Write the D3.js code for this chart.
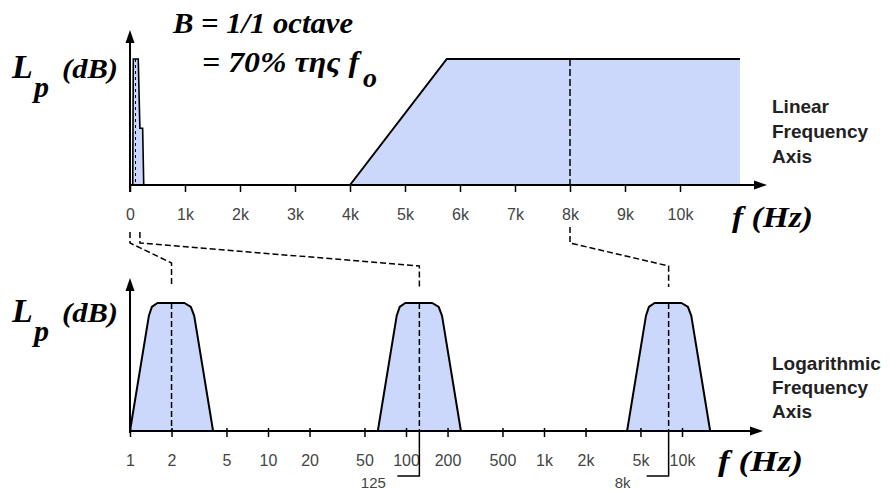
<!DOCTYPE html>
<html><head><meta charset="utf-8">
<script src="https://cdn.jsdelivr.net/npm/d3@7"></script>
<style>
html,body{margin:0;padding:0;background:#fff;}
svg{display:block;}
</style>
</head><body>
<svg id="chart" width="890" height="492"></svg>
<script>
// ---------- data ----------
const linTickValues = [0,1000,2000,3000,4000,5000,6000,7000,8000,9000,10000];
const linTickLabels = ["0","1k","2k","3k","4k","5k","6k","7k","8k","9k","10k"];
const logTickValues = [1,2,5,10,20,50,100,200,500,1000,2000,5000,10000];
const logTickLabels = ["1","2","5","10","20","50","100","200","500","1k","2k","5k","10k"];

// top (linear axis) shapes: [frequency Hz, level %]
const linSpikeFreq  = [50, 60, 150, 180, 230, 250];
const linSpikeLevel = [0, 100, 100, 45, 45, 0];
const linBandFreq   = [4000, 5760, 11090];
const linBandLevel  = [0, 100, 100];
const linMarkFreq   = 8000;

// bottom (log axis) 1/1 octave bands
const bandCenters   = [2, 125, 8000];
const band2Freq     = [1, 1.37, 1.44, 1.58, 2.48, 2.76, 2.92, 4];
const band125Freq   = [62.5, 85.6, 90, 98.8, 155, 172.5, 182.5, 250];
const band8kFreq    = [4000, 5480, 5760, 6320, 9920, 11040, 11680, 16000];
const bandLevel     = [0, 90, 97, 100, 100, 97, 90, 0];

// connectors: linear-axis source frequency -> log-axis target frequency
const connFrom = [0, 180, 8000];
const connTo   = [2, 125, 8000];

// ---------- layout ----------
const SERIF = "Liberation Serif";
const SANS  = "Liberation Sans";
const svg = d3.select("#chart");
const xLin = d3.scaleLinear().domain([0,10000]).range([130,680]);
const yTop = d3.scaleLinear().domain([0,100]).range([185,59]);
const xLog = d3.scaleLog().domain([1,10000]).range([130,682]);
const yBot = d3.scaleLinear().domain([0,100]).range([431,303]);
const fillC = "#ccd8fb";

// ---------- top chart ----------
const lineTop = d3.line().x(d=>xLin(d[0])).y(d=>yTop(d[1]));
const bandPts = linBandFreq.map((f,i)=>[f,linBandLevel[i]]);
svg.append("path")
  .attr("d", lineTop(bandPts.concat([[linBandFreq[linBandFreq.length-1],0]])) + "Z")
  .attr("fill", fillC).attr("stroke","none");
svg.append("path").attr("d", lineTop(bandPts))
  .attr("fill","none").attr("stroke","#000").attr("stroke-width",2);
svg.append("line")
  .attr("x1",xLin(linMarkFreq)).attr("x2",xLin(linMarkFreq))
  .attr("y1",yTop(100)).attr("y2",yTop(0))
  .attr("stroke","#000").attr("stroke-width",1.5).attr("stroke-dasharray","7,3");

const spikePts = linSpikeFreq.map((f,i)=>[f,linSpikeLevel[i]]);
svg.append("path").attr("d", lineTop(spikePts))
  .attr("fill",fillC).attr("stroke","#000").attr("stroke-width",1.6);
svg.append("line")
  .attr("x1",xLin(100)).attr("x2",xLin(100))
  .attr("y1",yTop(100)).attr("y2",yTop(0))
  .attr("stroke","#000").attr("stroke-width",1).attr("stroke-dasharray","3,3");

const axTop = svg.append("g").attr("transform","translate(0,185)")
  .call(d3.axisBottom(xLin).tickValues(linTickValues)
        .tickFormat((d,i)=>linTickLabels[i]).tickSizeInner(7).tickSizeOuter(0));
axTop.attr("font-family",SANS).attr("font-size",16);
axTop.select(".domain").remove();
axTop.selectAll(".tick line").attr("stroke","#000").attr("stroke-width",1.5);
axTop.selectAll(".tick text").attr("y",35).attr("dy",null)
  .attr("font-family",SANS).attr("font-size",16).attr("fill","#444");

function arrowAxis(x0,y0,x1,y1){
  svg.append("line").attr("x1",x0).attr("y1",y0).attr("x2",x1).attr("y2",y1)
    .attr("stroke","#000").attr("stroke-width",2);
}
function arrowHead(x,y,dir){
  let p;
  if(dir==="right") p=[[x,y],[x-13,y-4.5],[x-13,y+4.5]];
  else p=[[x,y],[x-4.5,y+13],[x+4.5,y+13]];
  svg.append("path").attr("d","M"+p.map(q=>q.join(",")).join("L")+"Z").attr("fill","#000");
}
arrowAxis(130,192,130,40); arrowHead(130,30,"up");
arrowAxis(129,185,756,185); arrowHead(767,185,"right");

// ---------- bottom chart ----------
const lineBot = d3.line().x(d=>xLog(d[0])).y(d=>yBot(d[1]));
[band2Freq, band125Freq, band8kFreq].forEach(fr=>{
  const pts = fr.map((f,i)=>[f,bandLevel[i]]);
  svg.append("path").attr("d", lineBot(pts)).attr("fill",fillC)
    .attr("stroke","#000").attr("stroke-width",2).attr("stroke-linejoin","round");
});
bandCenters.forEach(fc=>{
  svg.append("line").attr("x1",xLog(fc)).attr("x2",xLog(fc))
    .attr("y1",yBot(100)).attr("y2",yBot(0))
    .attr("stroke","#000").attr("stroke-width",1.5).attr("stroke-dasharray","6,3");
});

const axBot = svg.append("g").attr("transform","translate(0,431)")
  .call(d3.axisBottom(xLog).tickValues(logTickValues)
        .tickFormat((d,i)=>logTickLabels[i]).tickSizeInner(6).tickSizeOuter(0));
axBot.attr("font-family",SANS).attr("font-size",16);
axBot.select(".domain").remove();
axBot.selectAll(".tick line").attr("y1",-3).attr("stroke","#000").attr("stroke-width",1.5);
axBot.selectAll(".tick text").attr("y",35).attr("dy",null)
  .attr("font-family",SANS).attr("font-size",16).attr("fill","#444");

arrowAxis(130,433,130,288); arrowHead(130,278,"up");
arrowAxis(129,431,752,431); arrowHead(763,431,"right");

// center-frequency call-outs (125 and 8k)
[[125,"125",-22],[8000,"8k",-22]].forEach(c=>{
  const x = xLog(c[0]);
  svg.append("path").attr("d",`M${x},431V476H${x+c[2]}`)
    .attr("fill","none").attr("stroke","#000").attr("stroke-width",1.5);
  svg.append("text").attr("x",x+c[2]-24).attr("y",488).attr("text-anchor","middle")
    .attr("font-family",SANS).attr("font-size",15).attr("fill","#444")
    .text(c[1]);
});

// dashed connectors
connFrom.forEach((f,i)=>{
  const xa = xLin(f), xb = xLog(connTo[i]);
  const ya = (f===8000)?227:232;
  svg.append("path").attr("d",`M${xa},${ya}V243L${xb},${i===0?263:266}V287`)
    .attr("fill","none").attr("stroke","#000").attr("stroke-width",1.5).attr("stroke-dasharray","6,3");
});

// ---------- texts ----------
function serifText(x,y,size,t,len){
  const el = svg.append("text").attr("x",x).attr("y",y)
    .attr("font-family",SERIF).attr("font-weight","bold").attr("font-style","italic")
    .attr("font-size",size).attr("fill","#000").text(t);
  if(len) el.attr("textLength",len).attr("lengthAdjust","spacingAndGlyphs");
  return el;
}
function lp(yBase){
  serifText(12,yBase,34,"L");
  serifText(34,yBase+19,30,"p");
  serifText(62,yBase,28,"(dB)",56);
}
lp(78); lp(322);

serifText(173,33,30,"B = 1/1 octave",180);
serifText(202,72,30,"= 70% της f",157);
serifText(363,87,28,"o");

serifText(732,227,30,"f (Hz)",81);
serifText(718,471,30,"f (Hz)",85);

function block(lines, y0, dy){
  lines.forEach((t,i)=>{
    svg.append("text").attr("x",772).attr("y",y0+i*dy)
      .attr("font-family",SANS).attr("font-weight","bold")
      .attr("font-size",19).attr("fill","#222").text(t);
  });
}
block(["Linear","Frequency","Axis"],113,25);
block(["Logarithmic","Frequency","Axis"],370,24);
</script>
</body></html>
